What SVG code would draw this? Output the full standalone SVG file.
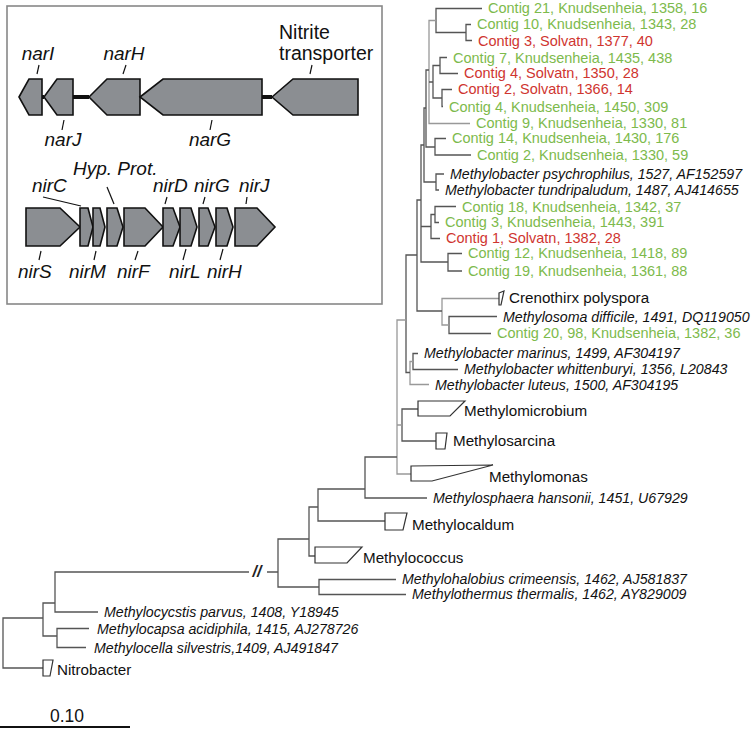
<svg xmlns="http://www.w3.org/2000/svg" width="752" height="729" viewBox="0 0 752 729">
<style>
text{font-family:"Liberation Sans",Arial,sans-serif}
.g{fill:#7dba4c;font-size:14.5px}
.r{fill:#cf3530;font-size:14.5px}
.i{fill:#111;font-size:14.2px;font-style:italic}
.b{fill:#111;font-size:15.2px}
.br{fill:none;stroke:#555;stroke-width:1.3}
.lt{stroke:#999}
.w{fill:#fff;stroke:#333;stroke-width:1.2}
.gene{fill:#8b8e92;stroke:#111;stroke-width:1.6}
.gl{font-size:19px;font-style:italic;fill:#111}
.tk{stroke:#111;stroke-width:1.2}
.lk{stroke:#111;stroke-width:4}
</style>
<rect width="752" height="729" fill="#fff"/>

<g id="inset">
<rect x="7" y="6" width="375" height="298" fill="#fff" stroke="#888" stroke-width="1.6"/>
<line class="lk" x1="42" y1="97" x2="44" y2="97" stroke-width="3"/>
<line class="lk" x1="73" y1="97" x2="89" y2="97"/>
<line class="lk" x1="262" y1="97" x2="272" y2="97"/>
<polygon class="gene" points="19,97 29,79 42,79 42,115 29,115"/>
<polygon class="gene" points="44,97 57,79 73,79 73,115 57,115"/>
<polygon class="gene" points="89,97 107,79 140,79 140,115 107,115"/>
<polygon class="gene" points="140,97 163,79 262,79 262,115 163,115"/>
<polygon class="gene" points="272,97 293,79 358,79 358,115 293,115"/>
<polygon class="gene" points="26,208 60,208 80,227 60,246 26,246"/>
<polygon class="gene" points="80,208 88,208 93,227 88,246 80,246"/>
<polygon class="gene" points="93,208 100,208 105,227 100,246 93,246"/>
<polygon class="gene" points="107,208 117,208 123,227 117,246 107,246"/>
<polygon class="gene" points="124,208 145,208 163,227 145,246 124,246"/>
<polygon class="gene" points="163,208 173,208 180,227 173,246 163,246"/>
<polygon class="gene" points="180,208 191,208 197,227 191,246 180,246"/>
<polygon class="gene" points="199,208 208,208 215,227 208,246 199,246"/>
<polygon class="gene" points="216,208 227,208 233,227 227,246 216,246"/>
<polygon class="gene" points="235,208 257,208 275,227 257,246 235,246"/>
<g class="tk">
<line x1="39" y1="65" x2="37" y2="74"/>
<line x1="126" y1="65" x2="123" y2="74"/>
<line x1="312" y1="65" x2="310" y2="74"/>
<line x1="64" y1="120" x2="62" y2="130"/>
<line x1="212" y1="120" x2="210" y2="130"/>
<line x1="43" y1="197" x2="81" y2="206"/>
<line x1="107" y1="187" x2="114" y2="204"/>
<line x1="167" y1="197" x2="165" y2="204"/>
<line x1="205" y1="197" x2="203" y2="204"/>
<line x1="247" y1="197" x2="246" y2="204"/>
<line x1="41" y1="251" x2="39" y2="260"/>
<line x1="96" y1="251" x2="94" y2="260"/>
<line x1="138" y1="251" x2="135" y2="260"/>
<line x1="186" y1="249" x2="183" y2="260"/>
<line x1="223" y1="249" x2="220" y2="260"/>
</g>
<text class="gl" x="38" y="60" text-anchor="middle">narI</text>
<text class="gl" x="124" y="60" text-anchor="middle">narH</text>
<text x="279" y="39" font-size="19.5" fill="#111">Nitrite</text>
<text x="279" y="60" font-size="19.5" fill="#111">transporter</text>
<text class="gl" x="63" y="146" text-anchor="middle">narJ</text>
<text class="gl" x="210" y="146" text-anchor="middle">narG</text>
<text class="gl" x="73" y="175" font-size="18.5px">Hyp. Prot.</text>
<text class="gl" x="32" y="192">nirC</text>
<text class="gl" x="153" y="192">nirD</text>
<text class="gl" x="194" y="192">nirG</text>
<text class="gl" x="239" y="192">nirJ</text>
<text class="gl" x="18" y="278">nirS</text>
<text class="gl" x="69" y="278">nirM</text>
<text class="gl" x="117" y="278">nirF</text>
<text class="gl" x="169" y="278">nirL</text>
<text class="gl" x="207" y="278">nirH</text>
</g>

<g id="connectors">
<path class="br" d="M471,24.5H466V40.5H472"/>
<path class="br" d="M482,8.5H436V32.5H466"/>
<path class="br lt" d="M436,20.5H429V123.5H470"/>
<path class="br" d="M447,57.5H440V73.5H458"/>
<path class="br" d="M452,89.5H442V106.5H443"/>
<path class="br" d="M440,65.5H433V98H442M429,82H433"/>
<path class="br" d="M446,138.5H435V155H471"/>
<path class="br" d="M429,70H426V147H435"/>
<path class="br" d="M444,174H436V190H439"/>
<path class="br" d="M426,108H424V182H436"/>
<path class="br" d="M456,206.5H435V222.5H439"/>
<path class="br" d="M435,214.5H431V238.5H440"/>
<path class="br" d="M462,253.5H448V271H462"/>
<path class="br" d="M424,145H421V262H448M421,226.5H431"/>
<path class="br" d="M497,316.5H449V333.5H491"/>
<path class="br lt" d="M499,298.5H442V325H449"/>
<path class="br" d="M421,200H417V311H442"/>
<path class="br" d="M418,353.5H413V369.5H458"/>
<path class="br lt" d="M413,361.5H410V384.5H429"/>
<path class="br" d="M417,255H406V372.5H410"/>
<path class="br" d="M436,441H402V409H418"/>
<path class="br lt" d="M406,320H397V474H411M397,425H402"/>
<path class="br" d="M397,457H365V498H427"/>
<path class="br" d="M365,489H318V521H385"/>
<path class="br" d="M318,507H309V556H315"/>
<path class="br" d="M396,579.5H319V594.5H406"/>
<path class="br" d="M309,539H278V587H319M278,572H267"/>
<path class="br" d="M249,572H55V612H98"/>
<path class="br" d="M55,603H43V636H57"/>
<path class="br" d="M89,628.5H57V647.5H86"/>
<path class="br" d="M43,618H3V668H43"/>
<text x="257" y="577" font-size="16" font-style="italic" font-weight="bold" text-anchor="middle" fill="#222">//</text>
</g>

<g id="n1"><text class="g" x="488" y="13.3">Contig 21, Knudsenheia, 1358, 16</text></g>
<g id="n2"><text class="g" x="477" y="29.3">Contig 10, Knudsenheia, 1343, 28</text></g>
<g id="n3"><text class="r" x="478" y="45.7">Contig 3, Solvatn, 1377, 40</text></g>
<g id="n4"><text class="g" x="453" y="62.7">Contig 7, Knudsenheia, 1435, 438</text></g>
<g id="n5"><text class="r" x="464" y="78.3">Contig 4, Solvatn, 1350, 28</text></g>
<g id="n6"><text class="r" x="458" y="94.3">Contig 2, Solvatn, 1366, 14</text></g>
<g id="n7"><text class="g" x="449" y="111.7">Contig 4, Knudsenheia, 1450, 309</text></g>
<g id="n8"><text class="g" x="476" y="128.3">Contig 9, Knudsenheia, 1330, 81</text></g>
<g id="n9"><text class="g" x="452" y="143.3">Contig 14, Knudsenheia, 1430, 176</text></g>
<g id="n10"><text class="g" x="477" y="160">Contig 2, Knudsenheia, 1330, 59</text></g>
<g id="n11"><text class="i" x="450" y="179">Methylobacter psychrophilus, 1527, AF152597</text></g>
<g id="n12"><text class="i" x="445" y="195.3">Methylobacter tundripaludum, 1487, AJ414655</text></g>
<g id="n13"><text class="g" x="462" y="211.7">Contig 18, Knudsenheia, 1342, 37</text></g>
<g id="n14"><text class="g" x="445" y="227.3">Contig 3, Knudsenheia, 1443, 391</text></g>
<g id="n15"><text class="r" x="446" y="243.3">Contig 1, Solvatn, 1382, 28</text></g>
<g id="n16"><text class="g" x="468" y="258.3">Contig 12, Knudsenheia, 1418, 89</text></g>
<g id="n17"><text class="g" x="468" y="276">Contig 19, Knudsenheia, 1361, 88</text></g>
<g id="n18"><polygon class="w" points="499,293 504,291 501,305 499,305"/><text class="b" x="509" y="303.3">Crenothirx polyspora</text></g>
<g id="n19"><text class="i" x="503" y="321.7">Methylosoma difficile, 1491, DQ119050</text></g>
<g id="n20"><text class="g" x="497" y="338.3">Contig 20, 98, Knudsenheia, 1382, 36</text></g>
<g id="n21"><text class="i" x="424" y="358.3">Methylobacter marinus, 1499, AF304197</text></g>
<g id="n22"><text class="i" x="464" y="374.3">Methylobacter whittenburyi, 1356, L20843</text></g>
<g id="n23"><text class="i" x="435" y="389.5">Methylobacter luteus, 1500, AF304195</text></g>
<g id="n24"><polygon class="w" points="418,401 465,401 450,416 418,416"/><text class="b" x="464" y="416">Methylomicrobium</text></g>
<g id="n25"><polygon class="w" points="436,433 447,433 445,449 436,449"/><text class="b" x="453" y="446">Methylosarcina</text></g>
<g id="n26"><polygon class="w" points="411,466 493,465 432,481 411,481"/><text class="b" x="489" y="481.7">Methylomonas</text></g>
<g id="n27"><text class="i" x="433" y="502.7">Methylosphaera hansonii, 1451, U67929</text></g>
<g id="n28"><polygon class="w" points="385,513 407,513 403,530 385,530"/><text class="b" x="412" y="530">Methylocaldum</text></g>
<g id="n29"><polygon class="w" points="315,547 362,547 347,563 315,563"/><text class="b" x="363" y="562.7">Methylococcus</text></g>
<g id="n30"><text class="i" x="402" y="584">Methylohalobius crimeensis, 1462, AJ581837</text></g>
<g id="n31"><text class="i" x="412" y="599.3">Methylothermus thermalis, 1462, AY829009</text></g>
<g id="n32"><text class="i" x="104" y="617">Methylocycstis parvus, 1408, Y18945</text></g>
<g id="n33"><text class="i" x="97" y="634">Methylocapsa acidiphila, 1415, AJ278726</text></g>
<g id="n34"><text class="i" x="94" y="653">Methylocella silvestris,1409, AJ491847</text></g>
<g id="n35"><polygon class="w" points="43,660 53,660 50,676 43,676"/><text class="b" x="57" y="675">Nitrobacter</text></g>

<g id="scale">
<line x1="0" y1="727" x2="130" y2="727" stroke="#111" stroke-width="2"/>
<text x="67" y="722" font-size="17.5" text-anchor="middle" fill="#111">0.10</text>
</g>
</svg>
